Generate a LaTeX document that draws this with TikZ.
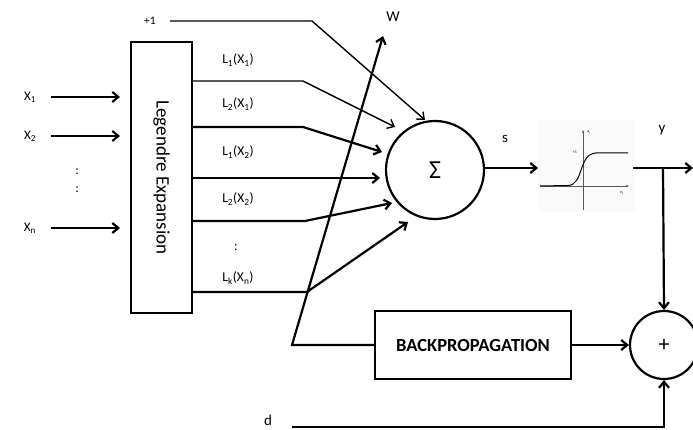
\documentclass[tikz,border=0pt]{standalone}
\usepackage{fontspec}
\setmainfont{Carlito}
\usetikzlibrary{arrows.meta,calc}
\begin{document}
\begin{tikzpicture}[x=1pt,y=-1pt,
  ln/.style={line width=2.2pt},
  thinln/.style={line width=1.4pt},
  arr/.style={-{Straight Barb[length=6pt,width=10pt]}},
  lbl/.style={font=\fontsize{13.5}{15}\selectfont, inner sep=1pt},
  inl/.style={font=\fontsize{13}{15}\selectfont, inner sep=1pt},
  big/.style={font=\fontsize{15}{17}\selectfont, inner sep=1pt}]
\useasboundingbox (0,0) rectangle (693,430);

% Legendre box
\node[draw, ln, minimum width=61pt, minimum height=271pt, inner sep=0pt] (leg) at (161.5,177.5) {};
\node[rotate=-90, font=\fontsize{19}{21}\selectfont] (legt) at (leg.center) {Legendre Expansion};

% inputs
\node[inl] (x1) at (30,97) {X\textsubscript{1}};
\node[inl] (x2) at (30,136) {X\textsubscript{2}};
\node[inl] (d1) at (77,172) {:};
\node[inl] (d2) at (77,190) {:};
\node[inl] (xn) at (30,228) {X\textsubscript{n}};
\coordinate (x1s) at (51,97);  \coordinate (x1e) at (120,97);
\coordinate (x2s) at (51,136); \coordinate (x2e) at (120,136);
\coordinate (xns) at (51,228); \coordinate (xne) at (120,228);
\draw[ln, arr] (x1s) -- (x1e);
\draw[ln, arr] (x2s) -- (x2e);
\draw[ln, arr] (xns) -- (xne);

% sum node
\node[draw, circle, ln, minimum size=98pt, inner sep=0pt, font=\fontsize{26}{28}\selectfont] (sum) at (435,170) {Σ};

% +1 bias
\node[font=\fontsize{11.5}{13}\selectfont, inner sep=1pt] (p1) at (150,21) {+1};
\coordinate (p1s) at (170,21);
\coordinate (p1k) at (312,21);
\coordinate (p1t) at (425,120);
\draw[thinln, arr] (p1s) -- (p1k) -- (p1t);

% Legendre outputs
\node[lbl] (l11) at (238,60) {L\textsubscript{1}(X\textsubscript{1})};
\node[lbl] (l21) at (238,104) {L\textsubscript{2}(X\textsubscript{1})};
\node[lbl] (l12) at (238,152) {L\textsubscript{1}(X\textsubscript{2})};
\node[lbl] (l22) at (238,199) {L\textsubscript{2}(X\textsubscript{2})};
\node[lbl] (ld) at (236,248) {:};
\node[lbl] (lkn) at (238,278) {L\textsubscript{k}(X\textsubscript{n})};

\coordinate (o1) at (leg.east |- 0,81);
\coordinate (o2) at (leg.east |- 0,127);
\coordinate (o3) at (leg.east |- 0,178);
\coordinate (o4) at (leg.east |- 0,221);
\coordinate (o5) at (leg.east |- 0,292);
\coordinate (k1) at (303,81);
\coordinate (k2) at (303,127);
\coordinate (k4) at (305,221);
\coordinate (k5) at (307,292);
\coordinate (t1) at (395,127);
\coordinate (t2) at (382,152);
\coordinate (t3) at (380,178);
\coordinate (t4) at (392,203);
\coordinate (t5) at (408,222);
\draw[thinln, arr] (o1) -- (k1) -- (t1);
\draw[ln, arr] (o2) -- (k2) -- (t2);
\draw[ln, arr] (o3) -- (t3);
\draw[ln, arr] (o4) -- (k4) -- (t4);
\draw[ln, arr] (o5) -- (k5) -- (t5);

% backpropagation
\node[draw, ln, minimum width=196pt, minimum height=68pt, inner sep=0pt,
      font=\fontsize{18.5}{20}\selectfont\bfseries] (bp) at (473,345) {BACKPROPAGATION};
\node[draw, circle, ln, minimum size=68pt, inner sep=0pt, font=\fontsize{22}{24}\selectfont] (plus) at (664,345) {+};

% weight update arrow W
\node[big] (w) at (393,17) {W};
\coordinate (wk) at (292,345);
\coordinate (wt) at (383,36);
\draw[ln, arr] (bp.west) -- (wk) -- (wt);

% s
\node[big] (s) at (505,139) {s};
\coordinate (se) at (538,168);
\draw[ln, arr] (sum.east |- se) -- (se);

% sigmoid picture
\node[fill=gray!4, minimum width=97pt, minimum height=92pt, inner sep=0pt] (sig) at (586.5,166) {};
\coordinate (ha) at (540,186); \coordinate (hb) at (629,186);
\coordinate (va) at (583,210); \coordinate (vb) at (583,130);
\draw[gray!70!black, line width=0.5pt, -{Stealth[length=3pt,width=2.5pt]}] (ha) -- (hb);
\draw[gray!70!black, line width=0.5pt, -{Stealth[length=3pt,width=2.5pt]}] (va) -- (vb);
\draw[line width=1pt] (ha) -- (568,185.5) .. controls (584,185) and (578,154) .. (596,153) -- (628,153);
\node[font=\fontsize{4}{4}\selectfont, inner sep=0pt] (aj) at (589,132) {a\textsubscript{j}};
\node[font=\fontsize{4}{4}\selectfont, inner sep=0pt] (one) at (575,152) {+1};
\node[font=\fontsize{4}{4}\selectfont, inner sep=0pt] (nj) at (622,193) {n\textsubscript{j}};

% output y
\node[big] (y) at (662,130) {y};
\coordinate (ys) at (633,168);
\coordinate (ye) at (693,168);
\coordinate (yj) at (663,168);
\draw[ln, arr] (ys) -- (ye);
\draw[ln, arr] (yj) -- (plus.north);
\draw[ln, arr] (bp.east) -- (plus.west);

% d
\node[big] (d) at (268,420) {d};
\coordinate (ds) at (292,427);
\draw[ln, arr] (ds) -- (ds -| plus.south) -- (plus.south);
\end{tikzpicture}
\end{document}
